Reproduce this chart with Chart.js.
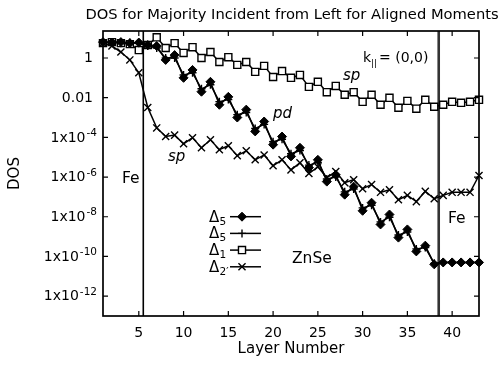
<!DOCTYPE html>
<html><head><meta charset="utf-8">
<script src="https://cdn.jsdelivr.net/npm/chart.js@4.4.1/dist/chart.umd.min.js"></script>
<style>html,body{margin:0;padding:0;background:#fff;}canvas{display:block;}</style>
</head><body>
<canvas id="c" width="501" height="365"></canvas>
<script>
// ---------- data ----------
const layers = [1,2,3,4,5,6,7,8,9,10,11,12,13,14,15,16,17,18,19,20,21,22,23,24,25,26,27,28,29,30,31,32,33,34,35,36,37,38,39,40,41,42,43];

// Delta_5 (filled diamonds, "pd")
const delta5Diamond = [6.3,6.0,6.3,5.6,6.0,4.5,4.0,0.8,1.4,0.1,0.25,0.02,0.063,0.0044,0.011,0.001,0.0025,2.0e-4,6.3e-4,4.3e-5,1.1e-4,1.1e-5,3.0e-5,3.0e-6,7.4e-6,5.9e-7,1.3e-6,1.3e-7,3.3e-7,2.0e-8,5.1e-8,4.1e-9,1.3e-8,8.9e-10,2.3e-9,1.8e-10,3.5e-10,4.0e-11,5.0e-11,5.0e-11,5.0e-11,5.0e-11,5.0e-11];
// Delta_5 (plus markers)
const delta5Plus = [6.0,6.3,5.6,6.0,5.6,4.0,3.2,1.0,1.0,0.14,0.18,0.028,0.045,0.0063,0.008,0.0014,0.0018,2.8e-4,4.5e-4,6.0e-5,8.0e-5,1.5e-5,2.2e-5,4.0e-6,5.5e-6,8.0e-7,1.0e-6,1.8e-7,2.5e-7,2.8e-8,3.8e-8,5.5e-9,9.5e-9,1.2e-9,1.7e-9,2.4e-10,2.8e-10,4.5e-11,5.0e-11,5.0e-11,5.0e-11,5.0e-11,5.0e-11];
// Delta_1 (open squares, "sp")
const delta1Square = [5.6,6.3,5.6,5.0,2.5,4.5,11,3.2,5.6,1.8,3.5,1.0,2.0,0.63,1.1,0.45,0.63,0.2,0.4,0.11,0.22,0.1,0.14,0.035,0.063,0.019,0.039,0.014,0.019,0.0062,0.014,0.0044,0.0098,0.0031,0.0069,0.0028,0.0078,0.0035,0.0044,0.0062,0.0055,0.0062,0.0078];
// Delta_2' (x markers, "sp")
const delta2pCross = [5.6,4.0,2.0,0.8,0.18,0.0032,3.0e-4,1.1e-4,1.3e-4,4.8e-5,9.5e-5,3.0e-5,7.6e-5,2.4e-5,3.8e-5,1.2e-5,2.1e-5,7.4e-6,1.3e-5,3.7e-6,7.4e-6,2.3e-6,5.2e-6,1.5e-6,3.3e-6,9.3e-7,1.9e-6,5.2e-7,7.4e-7,2.6e-7,4.2e-7,1.7e-7,2.3e-7,7.2e-8,1.2e-7,5.8e-8,1.9e-7,8.1e-8,1.2e-7,1.7e-7,1.7e-7,1.7e-7,1.2e-6];

const seriesLabels = ['Δ5', 'Δ5', 'Δ1', "Δ2'"];
const legendSubs = ['5', '5', '1', '2′'];
const xTicks = [5,10,15,20,25,30,35,40];
const yTicks = [1e-12,1e-10,1e-8,1e-6,1e-4,1e-2,1];
const yTickLabels = [['1x10','-12'],['1x10','-10'],['1x10','-8'],['1x10','-6'],['1x10','-4'],['0.01',''],['1','']];
const interfaceLayers = [5.5, 38.5];
const titleText = 'DOS for Majority Incident from Left for Aligned Moments';
const xTitle = 'Layer Number';
const yTitle = 'DOS';

// ---------- chart ----------
const FONT = "'DejaVu Sans', sans-serif";
const pts = arr => layers.map((l, i) => ({x: l, y: arr[i]}));

const styles = [
  {pointStyle: 'rectRot', pointRadius: 4.5, pointBackgroundColor: '#000', pointBorderColor: '#000', pointBorderWidth: 1},
  {pointStyle: 'cross', pointRadius: 4, pointBackgroundColor: '#000', pointBorderColor: '#000', pointBorderWidth: 1.4},
  {pointStyle: 'rect', pointRadius: 5, pointBackgroundColor: '#fff', pointBorderColor: '#000', pointBorderWidth: 1.4},
  {pointStyle: 'crossRot', pointRadius: 5, pointBackgroundColor: '#000', pointBorderColor: '#000', pointBorderWidth: 1.4}
];
const seriesData = [delta5Diamond, delta5Plus, delta1Square, delta2pCross];

const datasets = seriesData.map((arr, i) => Object.assign({
  label: seriesLabels[i],
  data: pts(arr),
  borderColor: '#000',
  borderWidth: 1.5,
  tension: 0,
  clip: false,
  order: [0, 1, 3, 2][i]
}, styles[i]));

const deco = {
  id: 'deco',
  beforeDatasetsDraw(chart) {
    const {ctx, chartArea: a, scales: {x}} = chart;
    ctx.save();
    interfaceLayers.forEach((v, i) => {
      const px = x.getPixelForValue(v);
      ctx.lineWidth = i === 0 ? 1.6 : 2.6;
      ctx.strokeStyle = i === 0 ? '#000' : '#333';
      ctx.beginPath(); ctx.moveTo(px, a.top); ctx.lineTo(px, a.bottom); ctx.stroke();
    });
    ctx.restore();
  },
  afterDatasetsDraw(chart) {
    const {ctx, chartArea: a, scales: {x, y}} = chart;
    ctx.save();
    // frame
    ctx.strokeStyle = '#000'; ctx.lineWidth = 1.7;
    ctx.strokeRect(a.left, a.top, a.right - a.left, a.bottom - a.top);
    // inward ticks
    ctx.lineWidth = 1.2;
    const tl = 5;
    xTicks.forEach(v => {
      const px = x.getPixelForValue(v);
      ctx.beginPath();
      ctx.moveTo(px, a.bottom); ctx.lineTo(px, a.bottom - tl);
      ctx.moveTo(px, a.top); ctx.lineTo(px, a.top + tl);
      ctx.stroke();
    });
    yTicks.forEach(v => {
      const py = y.getPixelForValue(v);
      ctx.beginPath();
      ctx.moveTo(a.left, py); ctx.lineTo(a.left + tl, py);
      ctx.moveTo(a.right, py); ctx.lineTo(a.right - tl, py);
      ctx.stroke();
    });
    // y tick labels with superscripts
    ctx.fillStyle = '#000';
    ctx.textBaseline = 'middle';
    yTicks.forEach((v, i) => {
      const py = y.getPixelForValue(v);
      const [base, exp] = yTickLabels[i];
      if (exp) {
        ctx.font = '10.5px ' + FONT;
        const ew = ctx.measureText(exp).width;
        const right = a.left - 6;
        ctx.textAlign = 'left';
        ctx.fillText(exp, right - ew, py - 4);
        ctx.font = '14px ' + FONT;
        ctx.textAlign = 'right';
        ctx.fillText(base, right - ew - 1, py + 0.5);
      } else {
        ctx.font = '14px ' + FONT;
        ctx.textAlign = 'right';
        ctx.fillText(base, a.left - 10, py + 0.5);
      }
    });
    // title
    ctx.textBaseline = 'alphabetic';
    ctx.textAlign = 'center';
    ctx.font = '14.7px ' + FONT;
    ctx.fillText(titleText, (a.left + a.right) / 2 + 1, 19);
    // annotations
    ctx.textAlign = 'left';
    ctx.font = '15.5px ' + FONT;
    ctx.fillText('Fe', 122, 183);
    ctx.fillText('Fe', 448, 223);
    ctx.fillText('ZnSe', 292, 263);
    ctx.font = 'oblique 15px ' + FONT;
    ctx.fillText('sp', 343, 80);
    ctx.fillText('pd', 273, 118);
    ctx.fillText('sp', 168, 161);
    ctx.font = '14px ' + FONT;
    ctx.fillText('k', 363, 62);
    ctx.font = '9px ' + FONT;
    ctx.fillText('||', 371, 66);
    ctx.font = '14px ' + FONT;
    ctx.fillText('= (0,0)', 379, 62);
    // legend
    [0, 1, 2, 3].forEach((di, r) => {
      const ly = 216.7 + r * 16.7;
      const ds = chart.data.datasets[di];
      ctx.fillStyle = '#000';
      ctx.font = '15px ' + FONT;
      ctx.textAlign = 'left';
      ctx.fillText(ds.label.charAt(0), 209, ly + 5);
      ctx.font = '10.5px ' + FONT;
      ctx.fillText(legendSubs[di], 219.5, ly + 8);
      ctx.strokeStyle = '#000'; ctx.lineWidth = 1.5;
      ctx.beginPath(); ctx.moveTo(230, ly); ctx.lineTo(261, ly); ctx.stroke();
      ctx.fillStyle = ds.pointBackgroundColor;
      ctx.lineWidth = ds.pointBorderWidth;
      Chart.helpers.drawPoint(ctx, {pointStyle: ds.pointStyle, radius: ds.pointRadius, rotation: 0, borderWidth: ds.pointBorderWidth}, 242, ly);
    });
    ctx.restore();
  }
};

new Chart(document.getElementById('c'), {
  type: 'line',
  data: {datasets},
  options: {
    responsive: false,
    animation: false,
    devicePixelRatio: 1,
    layout: {padding: {left: 0, right: 22, top: 31, bottom: 0}},
    plugins: {legend: {display: false}, title: {display: false}, tooltip: {enabled: false}},
    scales: {
      x: {
        type: 'linear', min: 1, max: 43,
        afterBuildTicks: s => { s.ticks = xTicks.map(v => ({value: v})); },
        afterFit: s => { s.height = 49; },
        grid: {display: false, drawTicks: false},
        border: {display: false},
        ticks: {font: {family: FONT, size: 14}, color: '#000', padding: 9, maxRotation: 0, autoSkip: false},
        title: {display: true, text: xTitle, color: '#000', font: {family: FONT, size: 15}, padding: {top: 0, bottom: 7}}
      },
      y: {
        type: 'logarithmic', min: 1e-13, max: 22.9,
        afterBuildTicks: s => { s.ticks = yTicks.map(v => ({value: v})); },
        afterFit: s => { s.width = 103; },
        grid: {display: false, drawTicks: false},
        border: {display: false},
        ticks: {display: false},
        title: {display: true, text: yTitle, color: '#000', font: {family: FONT, size: 15}, padding: {top: 6, bottom: 0}}
      }
    }
  },
  plugins: [deco]
});
</script>
</body></html>
